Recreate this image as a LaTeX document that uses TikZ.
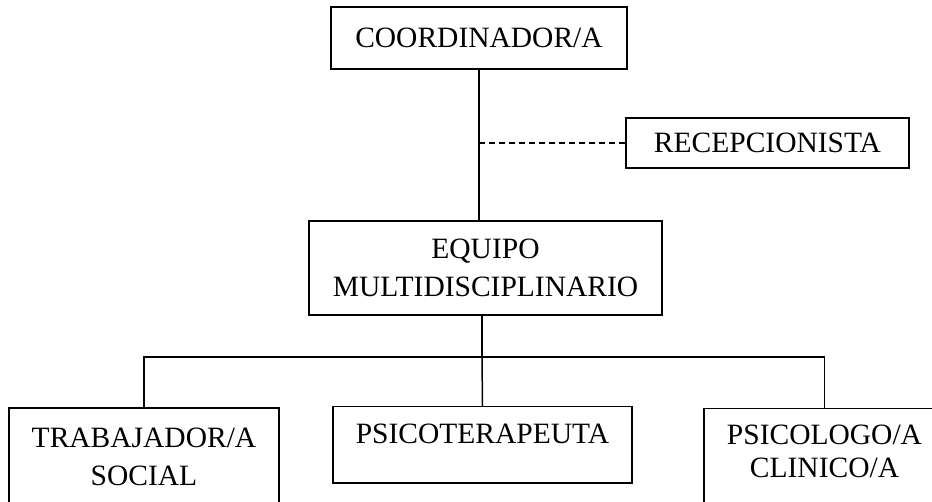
\documentclass[tikz,border=0pt]{standalone}
\usepackage{fontspec}
\setmainfont{Liberation Serif}
\usepackage{tikz}
\usetikzlibrary{positioning}

\begin{document}
\begin{tikzpicture}[x=1pt, y=1pt, line width=1.5pt,
    box/.style={draw, rectangle, inner sep=0pt, align=center, font=\fontsize{29.5}{38}\selectfont}]
    \useasboundingbox (0,0) rectangle (932,-502);
    % Top node
    \node[box, minimum width=296pt, minimum height=62pt] (coord) at (479,-38) {COORDINADOR/A};
    \node[box, minimum width=283pt, minimum height=50pt] (recep) at (767.5,-143) {RECEPCIONISTA};
    % Middle node
    \node[box, minimum width=353pt, minimum height=94pt] (equipo) at (485.5,-268) {EQUIPO\\MULTIDISCIPLINARIO};
    % Bottom nodes
    \node[box, minimum width=270pt, minimum height=98pt] (trab) at (144,-457) {TRABAJADOR/A\\SOCIAL};
    \node[box, minimum width=299pt, text height=36.5pt, text depth=39.5pt, anchor=north] (terap) at (482.5,-406) {PSICOTERAPEUTA};
    \node[box, minimum width=241pt, text height=68.5pt, text depth=36pt, anchor=north,
        font=\fontsize{29.5}{33}\selectfont] (clin) at (824.5,-408) {PSICOLOGO/A\\CLINICO/A};
    \coordinate (bus) at (482,-357);
    % Connections: coordinator to team
    \draw (coord.south) -- (coord.south |- equipo.north);
    % Connections: reception (dashed)
    \draw[dashed, dash pattern=on 6pt off 4pt] (recep.west) -- (recep.west -| coord.south);
    % Connections: team to the three roles
    \draw (bus) -- (bus |- equipo.south);
    \draw (trab.north) |- (bus) -| (clin.north);
    \draw (terap.north) -- (bus);
\end{tikzpicture}
\end{document}
